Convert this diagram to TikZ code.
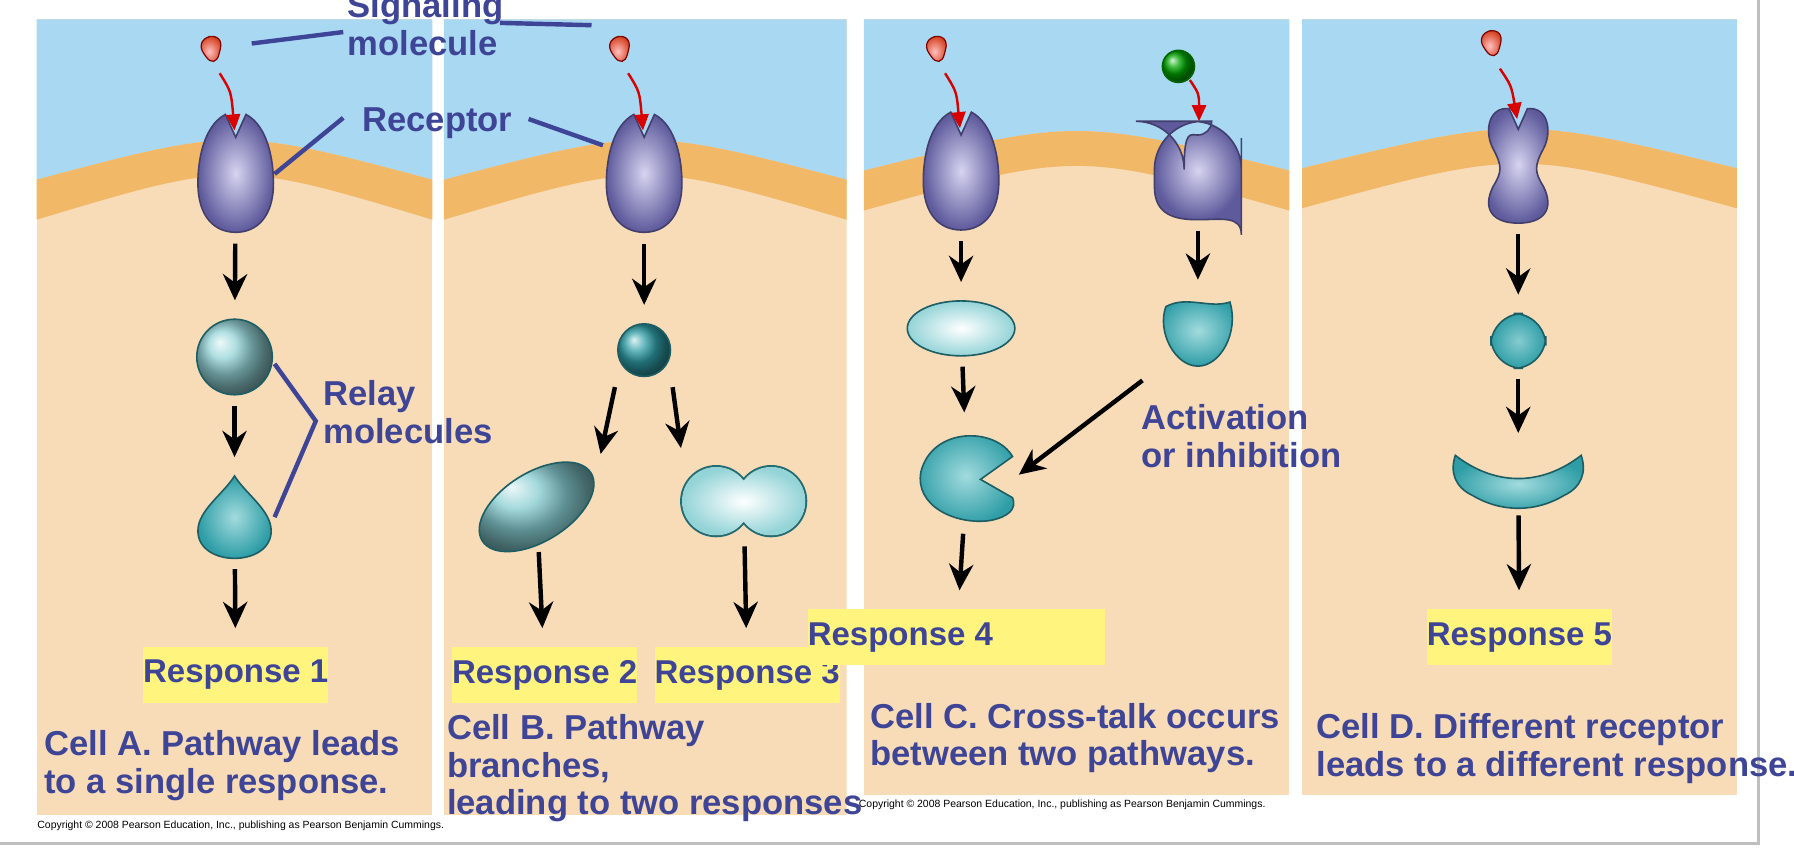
\documentclass[tikz,border=0pt]{standalone}
\usepackage{fontspec}
\setmainfont{Liberation Sans}
\usetikzlibrary{arrows.meta}

\definecolor{sky}{HTML}{A9D8F3}
\definecolor{memb}{HTML}{F0B867}
\definecolor{cyto}{HTML}{F8DCB8}
\definecolor{tblue}{HTML}{3F4596}
\definecolor{hilite}{HTML}{FFF47E}
\definecolor{teal}{HTML}{2E9DA6}
\definecolor{teallight}{HTML}{BFEBEC}
\definecolor{purp}{HTML}{8985C2}
\definecolor{purpdark}{HTML}{5E5A9C}
\definecolor{purplight}{HTML}{D6D4F0}

\newcommand\cellpanel[4]{%
  \begin{scope}
    \clip (#1,17) rectangle (#2,#3);
    \fill[cyto] (#1,17) rectangle (#2,#3);
    \fill[sky] (#1,17) -- (#1,{157+#4}) .. controls ({(#1+#2)/2},{111+#4}) .. (#2,{157+#4}) -- (#2,17) -- cycle;
    \fill[memb] (#1,{157+#4}) .. controls ({(#1+#2)/2},{111+#4}) .. (#2,{157+#4})
      -- (#2,{192+#4}) .. controls ({(#1+#2)/2},{140+#4}) .. (#1,{192+#4}) -- cycle;
  \end{scope}}

\begin{document}
\begin{tikzpicture}[x=0.01cm, y=-0.01cm,
  mol/.style 2 args={minimum width=#1*0.01cm, minimum height=#2*0.01cm, inner sep=0pt, draw=none},
  sigstep/.style={line width=1.1pt, -{Stealth[length=6.5pt,width=6pt]}, shorten <=2.5pt, shorten >=4.5pt},
  bind/.style={draw=red!85!black, line width=0.6pt, -{Triangle[length=4pt,width=3.5pt]}},
  lead/.style={draw=tblue, line width=1.1pt},
  lbl/.style={text=tblue, font=\fontsize{8.6}{9.3}\selectfont\bfseries, align=left, inner sep=0pt, anchor=north west},
  resp/.style={fill=hilite, text=tblue, font=\fontsize{8.2}{9}\selectfont\bfseries, minimum width=#1*0.01cm, minimum height=49*0.01cm, inner sep=0pt},
  cpy/.style={font=\fontsize{2.6}{3}\selectfont, inner sep=0pt, anchor=west},
  recshade/.style={draw=purpdark!70!black, line width=0.4pt, inner color=purplight, outer color=purpdark},
  relshade/.style={draw=teal!60!black, line width=0.4pt, inner color=teallight!80!teal, outer color=teal},
  sigshade/.style={draw=red!50!black, line width=0.3pt, inner color=red!25!white, outer color=red!60!orange!80!black},
  sigmol/.pic={\path[sigshade, rounded corners=4] (-14,-10) -- (12,-16) -- (4,16) -- cycle;},
  receggA/.pic={\path[recshade] (-9,-52) -- (0,-32) -- (9,-52) .. controls (28,-42) and (33,-12) .. (33,8)
     .. controls (33,38) and (18,51) .. (0,51) .. controls (-18,51) and (-33,38) .. (-33,8)
     .. controls (-33,-12) and (-28,-42) .. (-9,-52) -- cycle;},
  recbox/.pic={\path[recshade] (-12,-42) arc[start angle=180, end angle=0, radius=12]
     [rounded corners=12] -- (38,-42) -- (38,15) [sharp corners] .. controls (38,40) and (20,44) .. (0,44)
     .. controls (-20,44) and (-38,40) .. (-38,15) [rounded corners=12] -- (-38,-42) -- cycle;},
  rechour/.pic={\path[recshade] (-8,-50) -- (0,-32) -- (8,-50) .. controls (26,-52) and (30,-30) .. (22,-15)
     .. controls (14,0) and (14,5) .. (22,18) .. controls (32,38) and (22,50) .. (0,50)
     .. controls (-22,50) and (-32,38) .. (-22,18) .. controls (-14,5) and (-14,0) .. (-22,-15)
     .. controls (-30,-30) and (-26,-52) .. (-8,-50) -- cycle;},
  tear/.pic={\path[relshade] (0,-36) .. controls (10,-20) and (32,-6) .. (32,12) .. controls (32,28) and (16,36) .. (0,36)
     .. controls (-16,36) and (-32,28) .. (-32,12) .. controls (-32,-6) and (-10,-20) .. (0,-36) -- cycle;},
  pacman/.pic={\path[relshade] (40,-18) .. controls (25,-44) and (-30,-44) .. (-40,-5) .. controls (-46,25) and (-10,42) .. (20,38)
     .. controls (36,35) and (44,28) .. (40,18) -- (12,2) -- cycle;},
  blob/.pic={\path[relshade] (-28,-22) .. controls (-10,-32) and (10,-20) .. (28,-26) .. controls (36,0) and (20,30) .. (0,30)
     .. controls (-20,30) and (-36,0) .. (-28,-22) -- cycle;},
  crescent/.pic={\path[relshade] (-55,-20) .. controls (-20,7) and (20,7) .. (55,-20) .. controls (60,-5) and (55,8) .. (40,15)
     .. controls (15,30) and (-15,30) .. (-40,15) .. controls (-55,8) and (-60,-5) .. (-55,-20) -- cycle;},
  peanut/.pic={\draw[teal!70!black, line width=0.9pt] (-24,0) circle[radius=30] (24,0) circle[radius=30];
     \fill[inner color=white, outer color=teallight!70!teal] (-24,0) circle[radius=30] (24,0) circle[radius=30];}
]
\useasboundingbox (0,0) rectangle (1568,741);
\fill[white] (0,0) rectangle (1568,741);

% panels
\cellpanel{32}{378}{712}{0}
\cellpanel{388}{740}{712}{0}
\cellpanel{755}{1127}{695}{-8}
\cellpanel{1138}{1518}{695}{-10}
\draw[gray!50, line width=0.8pt] (1537,0) -- (1537,737) -- (0,737);

% ---------- Cell A
\node[mol={30}{32}] (sA) at (184,45) {};  \pic at (184,45) {sigmol};
\node[mol={66}{103}] (rA) at (206,152) {}; \pic at (206,152) {receggA};
\node[mol={66}{66}] (m1A) at (205,312) {};
\shade[ball color=teallight!70!teal, draw=teal!60!black] (205,312) circle[radius=33];
\node[mol={64}{72}] (m2A) at (205,452) {}; \pic at (205,452) {tear};
\node[resp=138] (respA) at (206,590) {Response 1};
\draw[bind] (192,64) .. controls (202,80) .. (205,114);
\draw[sigstep] (rA) -- (m1A);
\draw[sigstep] (m1A) -- (m2A);
\draw[sigstep] (m2A) -- (respA);

% ---------- Cell B
\node[mol={30}{32}] (sB) at (541,45) {};  \pic at (541,45) {sigmol};
\node[mol={66}{103}] (rB) at (563,152) {}; \pic at (563,152) {receggA};
\node[mol={46}{46}] (m1B) at (563,306) {};
\shade[ball color=teal, draw=teal!60!black] (563,306) circle[radius=23];
\node[mol={104}{60}] (m2B) at (469,443) {};
\shade[ball color=teallight!60!teal, draw=teal!60!black, rotate around={32:(469,443)}] (469,443) ellipse[x radius=56, y radius=30];
\node[mol={104}{60}] (m3B) at (650,438) {}; \pic at (650,438) {peanut};
\node[resp=135] (respB1) at (476,590) {Response 2};
\node[resp=138] (respB2) at (653,590) {Response 3};
\draw[bind] (549,64) .. controls (559,80) .. (562,114);
\draw[sigstep] (rB) -- (m1B);
\draw[sigstep] (m1B.south west) -- (m2B.north east);
\draw[sigstep] (m1B.south east) -- (m3B.north west);
\draw[sigstep] (m2B) -- (respB1);
\draw[sigstep] (m3B) -- (respB2);

% ---------- Cell C
\node[mol={30}{32}] (sC) at (818,45) {};  \pic at (818,45) {sigmol};
\node[mol={66}{103}] (rC) at (840,150) {}; \pic at (840,150) {receggA};
\node[mol={28}{28}] (sC2) at (1030,58) {};
\shade[ball color=green!65!black, draw=green!40!black] (1030,58) circle[radius=14];
\node[mol={76}{88}] (rC2) at (1047,148) {}; \pic at (1047,148) {recbox};
\node[mol={95}{48}] (m1C) at (840,287) {};
\shade[inner color=white, outer color=teallight!70!teal, draw=teal!60!black] (840,287) ellipse[x radius=47, y radius=24];
\node[mol={62}{58}] (m2C) at (1047,290) {}; \pic at (1047,290) {blob};
\node[mol={84}{80}] (m3C) at (845,417) {}; \pic at (845,417) {pacman};
\node[resp=153] (respC) at (836,557) {Response 4\hspace*{3.4em}};
\draw[bind] (826,64) .. controls (836,80) .. (839,112);
\draw[bind] (1040,70) .. controls (1048,82) .. (1048,106);
\draw[sigstep] (rC) -- (m1C);
\draw[sigstep] (rC2) -- (m2C);
\draw[sigstep] (m1C) -- (m3C);
\draw[sigstep, shorten <=6pt, shorten >=1pt] (m2C.south west) -- (m3C.east);
\draw[sigstep] (m3C) -- (respC);

% ---------- Cell D
\node[mol={30}{32}] (sD) at (1303,40) {};  \pic at (1303,40) {sigmol};
\node[mol={56}{100}] (rD) at (1327,145) {}; \pic at (1327,145) {rechour};
\node[mol={48}{48}] (m1D) at (1327,298) {};
\shade[inner color=teallight!60!teal, outer color=teal, draw=teal!60!black, rounded corners=8] (1303,274) rectangle (1351,322);
\node[mol={110}{46}] (m2D) at (1327,418) {}; \pic at (1327,418) {crescent};
\node[resp=150] (respD) at (1328,557) {Response 5};
\draw[bind] (1311,60) .. controls (1321,75) .. (1326,104);
\draw[sigstep] (rD) -- (m1D);
\draw[sigstep] (m1D) -- (m2D);
\draw[sigstep] (m2D) -- (respD);

% ---------- labels
\node[lbl, anchor=north] (tsig) at (372,-7) {Signaling\\molecule};
\draw[lead] (220,38) -- (300,28);
\draw[lead] (437,20) -- (517,22);
\node[lbl] (trec) at (316,93) {Receptor};
\draw[lead] (240,152) -- (300,103);
\draw[lead] (462,104) -- (527,127);
\node[lbl] (trel) at (282,332) {Relay\\molecules};
\draw[lead] (240,318) -- (276,368) -- (240,452);
\node[lbl] (tact) at (997,353) {Activation\\or inhibition};

\node[lbl] (tA) at (38,638) {Cell A. Pathway leads\\to a single response.};
\node[lbl] (tB) at (390,624) {Cell B. Pathway\\branches,\\leading to two responses};
\node[lbl] (tC) at (760,614) {Cell C. Cross-talk occurs\\between two pathways.};
\node[lbl] (tD) at (1150,623) {Cell D. Different receptor\\leads to a different response.};

\node[cpy] (c1) at (32,722) {Copyright \textcopyright\ 2008 Pearson Education, Inc., publishing as Pearson Benjamin Cummings.};
\node[cpy] (c2) at (750,703) {Copyright \textcopyright\ 2008 Pearson Education, Inc., publishing as Pearson Benjamin Cummings.};
\end{tikzpicture}
\end{document}
